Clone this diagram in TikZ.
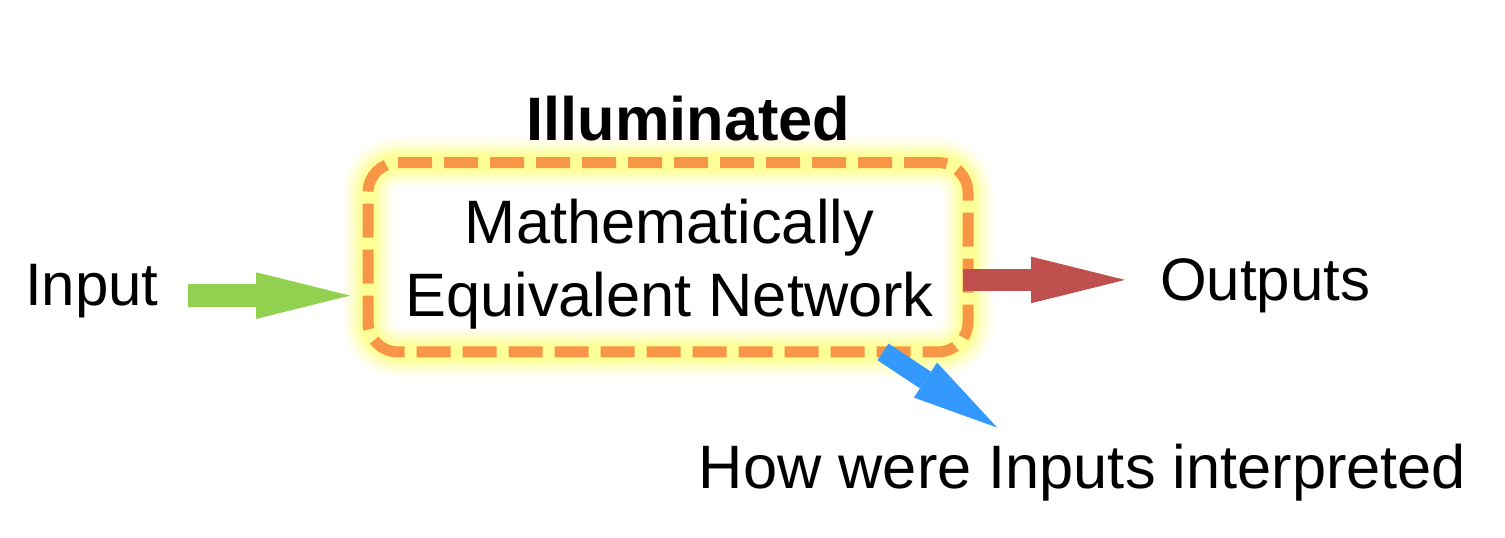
\documentclass[tikz,border=0pt]{standalone}
\usepackage{fontspec}
\setmainfont{Liberation Sans}
\usetikzlibrary{arrows.meta,backgrounds}

\definecolor{netorange}{RGB}{247,150,70}
\definecolor{glowyellow}{RGB}{255,255,120}
\definecolor{ingreen}{RGB}{146,208,80}
\definecolor{outred}{RGB}{192,80,77}
\definecolor{howblue}{RGB}{51,153,255}

\tikzset{every picture/.style={line width=0.75pt}}
\tikzset{
  plaintext/.style={inner sep=0pt, outer sep=0pt, font=\fontsize{45pt}{54pt}\selectfont},
  nettext/.style={inner sep=0pt, align=center, font=\fontsize{46pt}{54.75pt}\selectfont},
  netbox/.style={draw=netorange, line width=8.25pt, dash pattern=on 25.5pt off 9pt,
    rounded corners=22.5pt, minimum width=450pt, minimum height=142pt,
    inner sep=0pt, outer sep=0pt},
  flow/.style={draw=#1, line width=17pt, -{Triangle[length=70.5pt,width=35pt,line width=0pt]}},
  smallflow/.style={draw=#1, line width=15pt, -{Triangle[length=64.5pt,width=31.5pt,line width=0pt]}}
}

\begin{document}
\begin{tikzpicture}[x=0.75pt,y=0.75pt,yscale=-1,xscale=1]
\useasboundingbox (0,0) rectangle (1505,537);

% Text Node
\node [plaintext, font=\fontsize{46pt}{54pt}\selectfont\bfseries, anchor=base] (title) at (688.5,140) {Illuminated};
% Shape: Rounded Rect
\node [netbox] (net) at (668,257.25) {};
% Text Node
\node [nettext] (nettxt) at (669.5,264.5) {Mathematically\\Equivalent Network};
% Text Node
\node [plaintext, anchor=base west] (in) at (25,305) {Input};
% Text Node
\node [plaintext, anchor=base west] (out) at (1160,300) {Outputs};
% Text Node
\node [plaintext, font=\fontsize{46pt}{54pt}\selectfont, anchor=base] (how) at (1082.5,488) {How were Inputs interpreted};

% glow round the box
\begin{scope}[on background layer]
\foreach \w/\o in {50/0.1, 42/0.14, 34/0.2, 26/0.3, 18/0.45}
  \draw [glowyellow, line width=\w*0.75pt, opacity=\o, rounded corners=22.5pt] (net.north west) rectangle (net.south east);
\end{scope}

% Arrows
\draw [flow=ingreen, shorten <=22.5pt, shorten >=13.5pt] ([yshift=3.75pt]in.east) -- ([yshift=3.75pt]in.east -| net.west);
\draw [flow=outred, shorten <=-3.75pt, shorten >=26.25pt] ([yshift=17pt]net.east) -- ([yshift=17pt]net.east -| out.west);
\draw [smallflow=howblue] ([xshift=161.25pt]net.south) -- ([xshift=-64pt,yshift=-12pt]how.north);

\end{tikzpicture}
\end{document}
